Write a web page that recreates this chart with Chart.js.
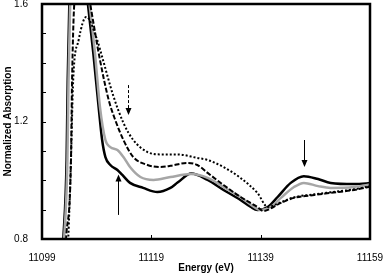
<!DOCTYPE html>
<html>
<head>
<meta charset="utf-8">
<script src="https://cdn.jsdelivr.net/npm/chart.js@4"></script>
<style>
  html, body { margin: 0; padding: 0; background: #fff; }
  #xanes { display: block; }
</style>
</head>
<body>
<canvas id="xanes" width="383" height="274"></canvas>
<script>
// XANES - normalized absorption vs energy
// Librerias: Chart.js

//---AXES
const energyMin = 11099;
const energyMax = 11159;
const energyTicks = [11099, 11119, 11139, 11159];
const absMin = 0.8;
const absMax = 1.6;
const absLabels = [0.8, 1.2, 1.6];

//---SERIES (energy eV / normalized absorption)
const energySolid = [11102.6, 11102.9, 11103.5, 11103.7, 11104.0, 11105.7, 11107.4, 11108.4, 11109.3, 11110.0, 11110.6, 11111.5, 11112.8, 11113.7, 11115.1, 11117.5, 11120.1, 11122.5, 11123.8, 11126.3, 11129.3, 11132.2, 11135.3, 11137.2, 11138.4, 11140.3, 11142.1, 11144.5, 11146.9, 11149.5, 11151.8, 11156.1, 11159.4];
const absSolid    = [0.70, 0.80, 1.07, 1.34, 1.60, 1.90, 1.60, 1.43, 1.26, 1.137, 1.079, 1.052, 1.035, 1.018, 0.991, 0.974, 0.960, 0.974, 0.992, 1.023, 1.001, 0.967, 0.933, 0.909, 0.899, 0.909, 0.943, 0.991, 1.014, 1.004, 0.991, 0.987, 0.991];

const energyGray = [11102.75, 11103.05, 11103.65, 11103.85, 11104.15, 11105.9, 11107.7, 11108.7, 11109.6, 11110.6, 11111.5, 11112.8, 11113.9, 11115.1, 11117.0, 11119.4, 11122.5, 11126.3, 11129.3, 11132.2, 11135.3, 11138.4, 11139.0, 11140.8, 11142.7, 11145.1, 11146.9, 11149.5, 11151.8, 11156.1, 11159.4];
const absGray    = [0.70, 0.80, 1.07, 1.34, 1.60, 1.90, 1.60, 1.43, 1.25, 1.137, 1.113, 1.103, 1.079, 1.045, 1.011, 1.001, 1.011, 1.021, 1.008, 0.977, 0.943, 0.902, 0.899, 0.909, 0.940, 0.977, 0.991, 0.980, 0.974, 0.977, 0.987];

const energyDashed = [11103.1, 11103.4, 11104.3, 11104.5, 11104.9, 11106.4, 11108.0, 11109.5, 11111.2, 11112.4, 11113.9, 11115.7, 11118.3, 11120.7, 11122.5, 11125.5, 11127.4, 11129.3, 11132.2, 11135.3, 11138.4, 11139.5, 11140.3, 11142.7, 11145.1, 11148.8, 11151.8, 11156.1, 11159.4];
const absDashed    = [0.70, 0.80, 1.07, 1.34, 1.60, 1.75, 1.58, 1.42, 1.273, 1.205, 1.137, 1.079, 1.052, 1.045, 1.049, 1.059, 1.052, 1.025, 0.984, 0.943, 0.909, 0.895, 0.899, 0.923, 0.940, 0.950, 0.957, 0.967, 0.980];

const energyDotted = [11103.5, 11103.8, 11104.3, 11104.7, 11105.7, 11107.1, 11109.1, 11110.0, 11112.0, 11113.9, 11115.7, 11118.3, 11120.7, 11123.8, 11127.4, 11129.3, 11132.2, 11135.3, 11138.4, 11140.3, 11142.7, 11145.1, 11148.8, 11151.8, 11156.1, 11159.4];
const absDotted    = [0.70, 0.80, 1.07, 1.34, 1.477, 1.556, 1.477, 1.42, 1.29, 1.195, 1.137, 1.096, 1.088, 1.088, 1.076, 1.069, 1.045, 1.008, 0.957, 0.909, 0.925, 0.942, 0.952, 0.959, 0.969, 0.981];

//---ARROWS (energy, from, to, dashed)
const arrowEnergy = [11114.8, 11112.9, 11146.9];
const arrowFrom   = [1.324, 0.882, 1.137];
const arrowTo     = [1.222, 1.020, 1.045];
const arrowDashed = [true, false, false];

function toPoints(xs, ys){
  return xs.map((x, i) => ({x: x, y: ys[i]}));
}

function lineSet(xs, ys, color, width, dash){
  return {
    data: toPoints(xs, ys),
    borderColor: color,
    borderWidth: width,
    borderDash: dash,
    pointRadius: 0,
    fill: false,
    cubicInterpolationMode: 'monotone',
    clip: 0
  };
}

//---FRAME, INWARD TICKS AND ARROWS
const framePlugin = {
  id: 'frame',
  afterDatasetsDraw(chart){
    const ctx = chart.ctx;
    const area = chart.chartArea;
    const xs = chart.scales.x;
    const ys = chart.scales.y;
    ctx.save();
    ctx.strokeStyle = '#000';
    ctx.lineWidth = 1;
    ctx.beginPath();
    ys.ticks.forEach(t => {
      const py = Math.round(ys.getPixelForValue(t.value)) + 0.5;
      ctx.moveTo(area.left, py);
      ctx.lineTo(area.left + 4, py);
    });
    xs.ticks.forEach(t => {
      const px = Math.round(xs.getPixelForValue(t.value)) + 0.5;
      ctx.moveTo(px, area.bottom);
      ctx.lineTo(px, area.bottom - 4);
    });
    ctx.stroke();

    ctx.lineWidth = 2.5;
    ctx.strokeRect(area.left, area.top, area.right - area.left, area.bottom - area.top);

    //---ARROWS
    arrowEnergy.forEach((e, i) => {
      const px = Math.round(xs.getPixelForValue(e)) + 0.5;
      const y0 = ys.getPixelForValue(arrowFrom[i]);
      const y1 = ys.getPixelForValue(arrowTo[i]);
      const dir = y1 > y0 ? 1 : -1;
      ctx.lineWidth = 1;
      ctx.setLineDash(arrowDashed[i] ? [3, 2] : []);
      ctx.beginPath();
      ctx.moveTo(px, y0);
      ctx.lineTo(px, y1 - dir * 5);
      ctx.stroke();
      ctx.setLineDash([]);
      ctx.beginPath();
      ctx.moveTo(px, y1);
      ctx.lineTo(px - 3, y1 - dir * 7);
      ctx.lineTo(px + 3, y1 - dir * 7);
      ctx.closePath();
      ctx.fillStyle = '#000';
      ctx.fill();
    });
    ctx.restore();
  }
};

const ctx = document.getElementById('xanes').getContext('2d');
const chart1 = new Chart(ctx, {
  type: 'line',
  data: {
    datasets: [
      lineSet(energyDotted, absDotted, '#000', 2, [2, 2]),
      lineSet(energyDashed, absDashed, '#000', 2, [5, 2]),
      lineSet(energyGray, absGray, '#a6a6a6', 2.5, []),
      lineSet(energySolid, absSolid, '#000', 2.5, [])
    ]
  },
  plugins: [framePlugin],
  options: {
    responsive: false,
    animation: false,
    devicePixelRatio: 1,
    layout: { padding: { left: 0, right: 13, top: 4, bottom: 0 } },
    plugins: {
      legend: { display: false },
      tooltip: { enabled: false }
    },
    scales: {
      x: {
        type: 'linear',
        min: energyMin,
        max: energyMax,
        afterBuildTicks: scale => { scale.ticks = energyTicks.map(v => ({value: v})); },
        afterFit: scale => { scale.height = 35; scale.paddingLeft = 0; scale.paddingRight = 0; },
        grid: { display: false },
        border: { display: false },
        ticks: {
          color: '#000',
          font: { family: 'Liberation Sans, Arial, sans-serif', size: 10 },
          padding: 5,
          maxRotation: 0,
          callback: v => String(v)
        },
        title: {
          display: true,
          text: 'Energy (eV)',
          color: '#000',
          font: { family: 'Liberation Sans, Arial, sans-serif', size: 10, weight: 'bold' },
          padding: { top: 0, bottom: 0 }
        }
      },
      y: {
        min: absMin,
        max: absMax,
        afterFit: scale => { scale.width = 42; scale.paddingTop = 0; scale.paddingBottom = 0; },
        grid: { display: false },
        border: { display: false },
        ticks: {
          stepSize: 0.1,
          color: '#000',
          font: { family: 'Liberation Sans, Arial, sans-serif', size: 10 },
          padding: 6,
          callback: v => absLabels.some(l => Math.abs(l - v) < 1e-6) ? v.toFixed(1) : ''
        },
        title: {
          display: true,
          text: 'Normalized Absorption',
          color: '#000',
          font: { family: 'Liberation Sans, Arial, sans-serif', size: 10, weight: 'bold' },
          padding: { top: 2, bottom: 0 }
        }
      }
    }
  }
});
</script>
</body>
</html>
